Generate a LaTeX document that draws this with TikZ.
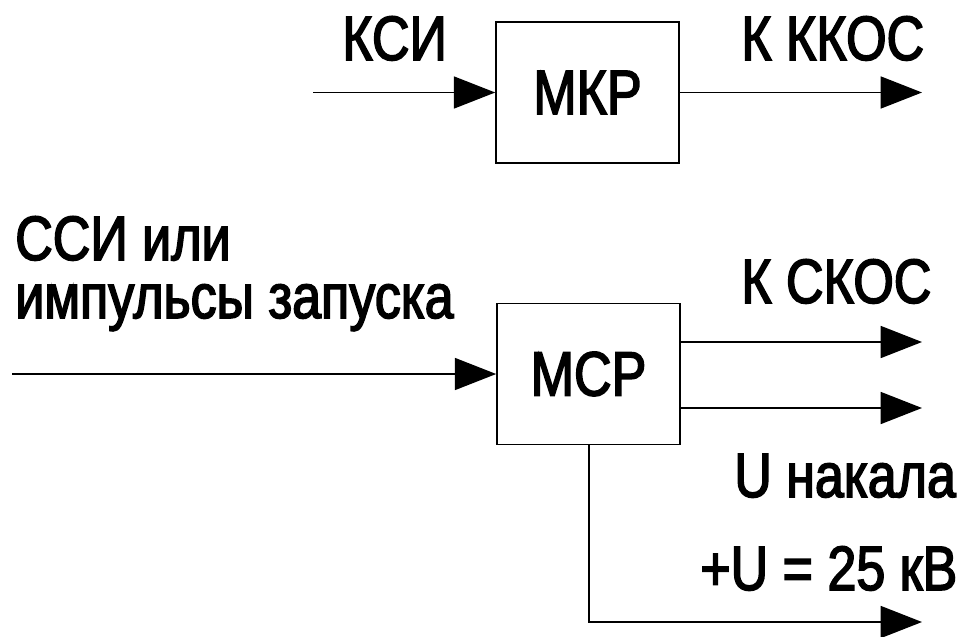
\documentclass[tikz,border=0pt]{standalone}
\usepackage{fontspec}
\setmainfont{Liberation Sans}[FakeStretch=0.83,FakeBold=2.5]
\usetikzlibrary{arrows.meta}
\begin{document}
\begin{tikzpicture}[x=0.75pt,y=-0.75pt,
  every node/.style={font=\fontsize{47}{56}\selectfont, inner sep=0pt},
  blk/.style={draw, line width=1.2pt, minimum width=137.25pt, minimum height=105.5pt},
  lbl/.style={anchor=base west},
  sig/.style={line width=1.2pt, -{Triangle[length=31pt,width=24pt]}},
  wire/.style={line width=1.2pt}]
\useasboundingbox (0,0) rectangle (960,636);
% blocks
\node[blk] (mkp) at (587.5,92.5) {МКР};
\node[blk] (mcp) at (588.5,374) {МСР};
% coordinates
\coordinate (i1) at (313,92.5);
\coordinate (o1) at (922,92.5);
\coordinate (i2) at (12,374);
\coordinate (o2) at (922,342);
\coordinate (o3) at (922,408);
\coordinate (c4) at (589,622);
\coordinate (o4) at (922,622);
% connectors
\draw[sig] (i1) -- (mkp.west);
\draw[sig] (mkp.east) -- (o1);
\draw[sig] (i2) -- (mcp.west);
\draw[sig] (o2 -| mcp.east) -- (o2);
\draw[sig] (o3 -| mcp.east) -- (o3);
\draw[sig] (c4 |- mcp.south) -- (c4) -- (o4);
% labels
\node[lbl] (t1) at (342,60) {КСИ};
\node[lbl] (t2) at (741,60) {К ККОС};
\node[lbl] (t3) at (15,260) {ССИ или};
\node[lbl] (t4) at (15,318) {импульсы запуска};
\node[lbl] (t5) at (741,303) {К СКОС};
\node[lbl] (t6) at (734,497) {U накала};
\node[lbl] (t7) at (700,590) {+U = 25 кВ};
\end{tikzpicture}
\end{document}
